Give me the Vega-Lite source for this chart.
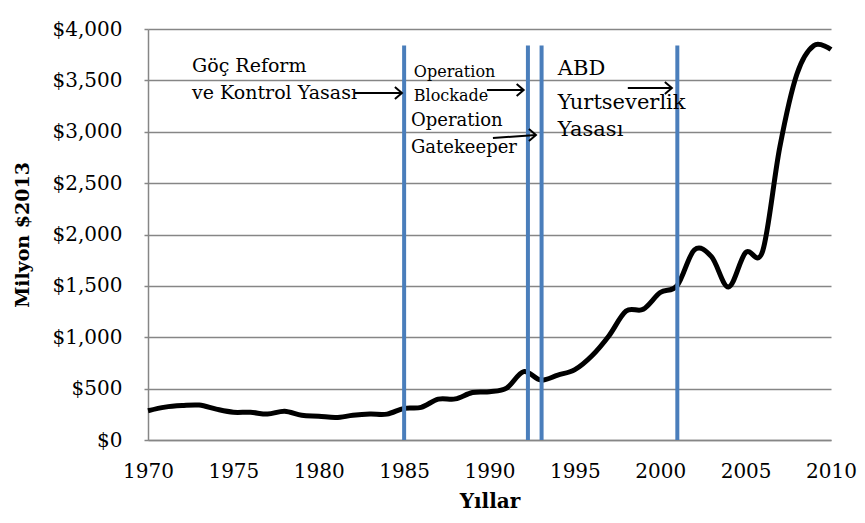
{
  "$schema": "https://vega.github.io/schema/vega-lite/v6.json",
  "width": 683,
  "height": 411,
  "autosize": "none",
  "padding": {"left": 148, "top": 29, "right": 34, "bottom": 83},
  "background": "white",
  "config": {"view": {"stroke": null}, "font": "DejaVu Serif"},
  "datasets": {
    "series": [
      {"year": 1970, "value": 285}, {"year": 1971, "value": 320}, {"year": 1972, "value": 335},
      {"year": 1973, "value": 340}, {"year": 1974, "value": 300}, {"year": 1975, "value": 270},
      {"year": 1976, "value": 270}, {"year": 1977, "value": 252}, {"year": 1978, "value": 280},
      {"year": 1979, "value": 240}, {"year": 1980, "value": 232}, {"year": 1981, "value": 218},
      {"year": 1982, "value": 240}, {"year": 1983, "value": 252}, {"year": 1984, "value": 252},
      {"year": 1985, "value": 308}, {"year": 1986, "value": 318}, {"year": 1987, "value": 398},
      {"year": 1988, "value": 400}, {"year": 1989, "value": 462}, {"year": 1990, "value": 470},
      {"year": 1991, "value": 505}, {"year": 1992, "value": 665}, {"year": 1993, "value": 583},
      {"year": 1994, "value": 632}, {"year": 1995, "value": 685}, {"year": 1996, "value": 820},
      {"year": 1997, "value": 1015}, {"year": 1998, "value": 1255}, {"year": 1999, "value": 1272},
      {"year": 2000, "value": 1435}, {"year": 2001, "value": 1505}, {"year": 2002, "value": 1850},
      {"year": 2003, "value": 1785}, {"year": 2004, "value": 1490}, {"year": 2005, "value": 1825},
      {"year": 2006, "value": 1840}, {"year": 2007, "value": 2850}, {"year": 2008, "value": 3560},
      {"year": 2009, "value": 3840}, {"year": 2010, "value": 3800}
    ],
    "events": [{"year": 1985}, {"year": 1992.25}, {"year": 1993.05}, {"year": 2001}],
    "notesA": [
      {"year": 1972.58, "value": 3640, "label": "Göç Reform"},
      {"year": 1972.58, "value": 3377, "label": "ve Kontrol Yasası"}
    ],
    "notesB": [
      {"year": 1985.57, "value": 3581, "label": "Operation"},
      {"year": 1985.57, "value": 3348, "label": "Blockade"}
    ],
    "notesC": [
      {"year": 1985.4, "value": 3105, "label": "Operation"},
      {"year": 1985.4, "value": 2842, "label": "Gatekeeper"}
    ],
    "notesD": [
      {"year": 1994.0, "value": 3611, "label": "ABD"},
      {"year": 1994.0, "value": 3280, "label": "Yurtseverlik"},
      {"year": 1994.0, "value": 3017, "label": "Yasası"}
    ],
    "arrows": [
      {"year": 1982.12, "value": 3377, "year2": 1984.87, "value2": 3377},
      {"year": 1989.85, "value": 3406, "year2": 1992.0, "value2": 3406},
      {"year": 1990.2, "value": 2939, "year2": 1992.72, "value2": 2968},
      {"year": 1998.1, "value": 3426, "year2": 2000.68, "value2": 3426}
    ]
  },
  "layer": [
    {
      "data": {"name": "series"},
      "mark": {"type": "line", "interpolate": "cardinal", "color": "black", "strokeWidth": 5},
      "encoding": {
        "x": {
          "field": "year", "type": "quantitative",
          "scale": {"domain": [1970, 2010], "nice": false, "zero": false},
          "axis": {
            "title": "Yıllar", "values": [1970, 1975, 1980, 1985, 1990, 1995, 2000, 2005, 2010],
            "format": "d", "grid": false, "ticks": false, "labelFlush": false, "labelOverlap": false,
            "domainColor": "#868686", "domainWidth": 1.5,
            "labelFont": "DejaVu Serif", "labelFontSize": 20, "labelColor": "black", "labelPadding": 21,
            "titleFont": "DejaVu Serif", "titleFontSize": 20, "titleFontWeight": "bold", "titleColor": "black", "titlePadding": 10
          }
        },
        "y": {
          "field": "value", "type": "quantitative",
          "scale": {"domain": [0, 4000], "nice": false},
          "axis": {
            "title": "Milyon $2013", "values": [0, 500, 1000, 1500, 2000, 2500, 3000, 3500, 4000],
            "format": "$,.0f", "grid": true, "gridColor": "#868686", "gridWidth": 1.5,
            "domainColor": "#868686", "domainWidth": 1.5, "tickColor": "#868686", "tickSize": 4, "tickWidth": 1.5,
            "labelFont": "DejaVu Serif", "labelFontSize": 20, "labelColor": "black", "labelPadding": 22, "labelOverlap": false,
            "titleFont": "DejaVu Serif", "titleFontSize": 19, "titleFontWeight": "bold", "titleColor": "black", "titlePadding": 20
          }
        }
      }
    },
    {
      "data": {"name": "events"},
      "mark": {"type": "rule", "color": "#4A7EBB", "strokeWidth": 4},
      "encoding": {
        "x": {"field": "year", "type": "quantitative"},
        "y": {"datum": 0},
        "y2": {"datum": 3840}
      }
    },
    {
      "data": {"name": "arrows"},
      "mark": {"type": "rule", "color": "black", "strokeWidth": 2},
      "encoding": {
        "x": {"field": "year", "type": "quantitative"},
        "x2": {"field": "year2"},
        "y": {"field": "value", "type": "quantitative"},
        "y2": {"field": "value2"}
      }
    },
    {
      "data": {"name": "arrows"},
      "mark": {"type": "point", "shape": "M-1,-0.85L0,0L-1,0.85", "filled": false, "stroke": "black", "strokeWidth": 2, "size": 196, "opacity": 1},
      "encoding": {
        "x": {"field": "year2", "type": "quantitative"},
        "y": {"field": "value2", "type": "quantitative"}
      }
    },
    {
      "data": {"name": "notesA"},
      "mark": {"type": "text", "align": "left", "baseline": "middle", "font": "DejaVu Serif", "fontSize": 19, "color": "black"},
      "encoding": {
        "x": {"field": "year", "type": "quantitative"},
        "y": {"field": "value", "type": "quantitative"},
        "text": {"field": "label"}
      }
    },
    {
      "data": {"name": "notesB"},
      "mark": {"type": "text", "align": "left", "baseline": "middle", "font": "DejaVu Serif", "fontSize": 16, "color": "black"},
      "encoding": {
        "x": {"field": "year", "type": "quantitative"},
        "y": {"field": "value", "type": "quantitative"},
        "text": {"field": "label"}
      }
    },
    {
      "data": {"name": "notesC"},
      "mark": {"type": "text", "align": "left", "baseline": "middle", "font": "DejaVu Serif", "fontSize": 18, "color": "black"},
      "encoding": {
        "x": {"field": "year", "type": "quantitative"},
        "y": {"field": "value", "type": "quantitative"},
        "text": {"field": "label"}
      }
    },
    {
      "data": {"name": "notesD"},
      "mark": {"type": "text", "align": "left", "baseline": "middle", "font": "DejaVu Serif", "fontSize": 21, "color": "black"},
      "encoding": {
        "x": {"field": "year", "type": "quantitative"},
        "y": {"field": "value", "type": "quantitative"},
        "text": {"field": "label"}
      }
    }
  ]
}
